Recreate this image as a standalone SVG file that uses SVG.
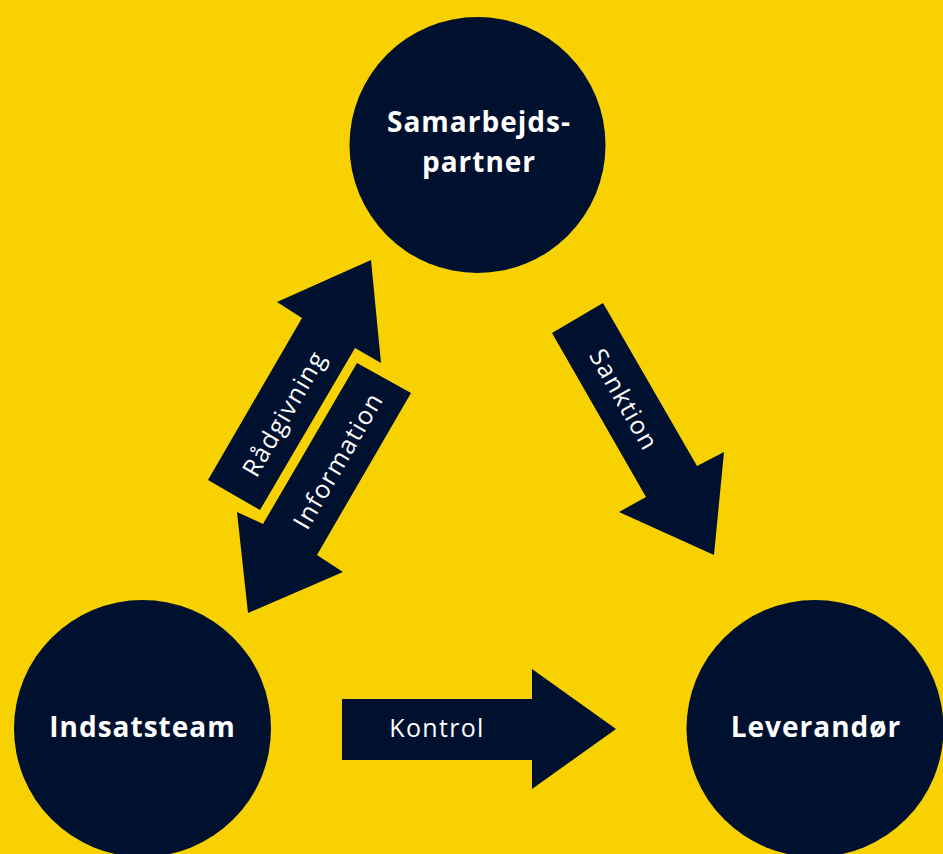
<svg xmlns="http://www.w3.org/2000/svg" width="943" height="854" viewBox="0 0 943 854">
<style>
.node{fill:#00112F}
.arrow{fill:#00112F}
.nl{fill:#FFFFFF;font-family:"Open Sans","Liberation Sans",sans-serif;font-weight:700;font-size:28px;letter-spacing:1px;text-anchor:middle}
.al{fill:#FFFFFF;font-family:"Open Sans","Liberation Sans",sans-serif;font-size:25px;letter-spacing:1.3px;text-anchor:middle;dominant-baseline:central}
</style>
<rect x="0" y="0" width="943" height="854" fill="#F8D200"/>
<g id="connectors">
<g id="kontrol">
<polygon class="arrow" points="342,699 532,699 532,669 616,729 532,789 532,760 342,760"/>
<text class="al" x="437" y="727">Kontrol</text>
</g>
<g id="sanktion">
<polygon class="arrow" points="552,333 603,303 697,466 724,452 714,555 619,512 646,497"/>
<text class="al" transform="translate(625,399) rotate(60.2)" x="0" y="0">Sanktion</text>
</g>
<g id="raadgivning">
<polygon class="arrow" points="208,480 302,318 277,302 371,260 381,363 355,348 260,510"/>
<text class="al" transform="translate(283,413) rotate(-59.9)" x="0" y="0">Rådgivning</text>
</g>
<g id="information">
<polygon class="arrow" points="357,363 411,393 317,555 343,572 248,613 237,512 263,524"/>
<text class="al" transform="translate(337,460) rotate(-59.9)" x="0" y="0">Information</text>
</g>
</g>
<g id="samarbejdspartner">
<circle class="node" cx="477.5" cy="145" r="128"/>
<text class="nl" x="479" y="132">Samarbejds-</text>
<text class="nl" x="479" y="172">partner</text>
</g>
<g id="indsatsteam">
<circle class="node" cx="142.5" cy="728.5" r="128.5"/>
<text class="nl" x="142.5" y="737">Indsatsteam</text>
</g>
<g id="leverandoer">
<circle class="node" cx="815" cy="728.5" r="128.5"/>
<text class="nl" x="816" y="737">Leverandør</text>
</g>
</svg>
